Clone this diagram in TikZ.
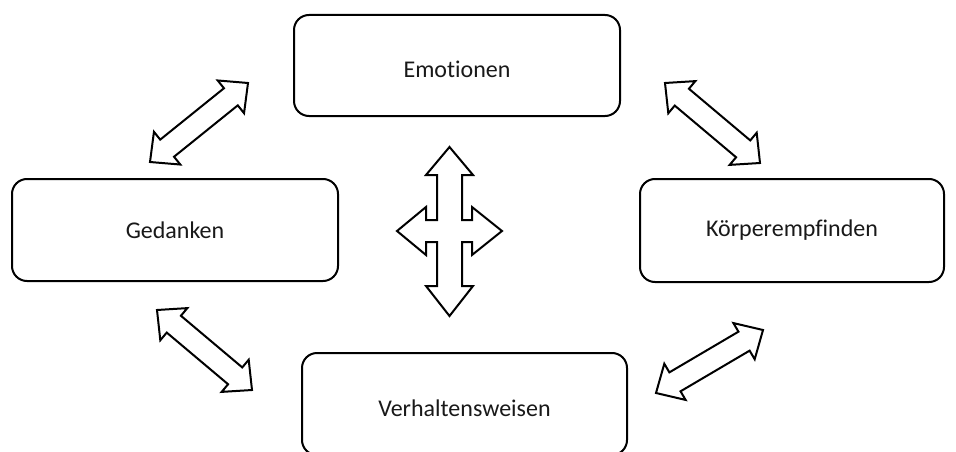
\documentclass[tikz,border=0pt]{standalone}
\usepackage{fontspec}
\setmainfont{Carlito}[Ligatures={NoCommon}]
\usetikzlibrary{calc}
\tikzset{
  box/.style={draw=black, line width=2pt, rounded corners=15pt, fill=white,
    font=\fontsize{24}{28}\selectfont, text=black!90, inner sep=0pt},
  lowtext/.style={text height=24pt, text depth=0pt},
  blockarrow/.style={draw=black, line width=2pt, fill=white, line join=miter},
}
% \dblarrow{A}{B}: double block arrow between named coordinates A and B
\newcommand\dblarrow[2]{%
  \draw[blockarrow]
    (#1)
    -- ($($(#1)!22pt!(#2)$)!21pt!90:(#2)$)
    -- ($($(#1)!22pt!(#2)$)!11pt!90:(#2)$)
    -- ($($(#2)!22pt!(#1)$)!11pt!-90:(#1)$)
    -- ($($(#2)!22pt!(#1)$)!21pt!-90:(#1)$)
    -- (#2)
    -- ($($(#2)!22pt!(#1)$)!21pt!90:(#1)$)
    -- ($($(#2)!22pt!(#1)$)!11pt!90:(#1)$)
    -- ($($(#1)!22pt!(#2)$)!11pt!-90:(#2)$)
    -- ($($(#1)!22pt!(#2)$)!21pt!-90:(#2)$)
    -- cycle;}
\begin{document}
\begin{tikzpicture}[x=1pt,y=-1pt]
  \useasboundingbox (0,0) rectangle (956,452);
  \node[box, lowtext, minimum width=326pt, minimum height=101pt] (emo) at (457,65.5) {Emotionen};
  \node[box, minimum width=326pt, minimum height=102pt] (ged) at (175,230) {Gedanken};
  \node[box, minimum width=304pt, minimum height=103pt] (koe) at (792,230.5) {Körperempfinden};
  \node[box, lowtext, minimum width=325pt, minimum height=102pt] (ver) at (464.5,404) {Verhaltensweisen};

  \coordinate (a1) at (150,162); \coordinate (b1) at (248,83);
  \coordinate (a2) at (665,83);  \coordinate (b2) at (760,163);
  \coordinate (a3) at (157,310); \coordinate (b3) at (252,390);
  \coordinate (a4) at (656,393); \coordinate (b4) at (763,330);
  \dblarrow{a1}{b1}
  \dblarrow{a2}{b2}
  \dblarrow{a3}{b3}
  \dblarrow{a4}{b4}

  \coordinate (cross) at (449.5,231);
  \draw[blockarrow]
    (449.5,147) -- (473,175) -- (462,175) -- (462,220) -- (472,220) -- (472,207)
    -- (502,231) -- (472,255) -- (472,242) -- (462,242) -- (462,286) -- (473,286)
    -- (449.5,316) -- (426,286) -- (437,286) -- (437,242) -- (426,242) -- (426,255)
    -- (397,231) -- (426,207) -- (426,220) -- (437,220) -- (437,175) -- (426,175)
    -- cycle;
\end{tikzpicture}
\end{document}
